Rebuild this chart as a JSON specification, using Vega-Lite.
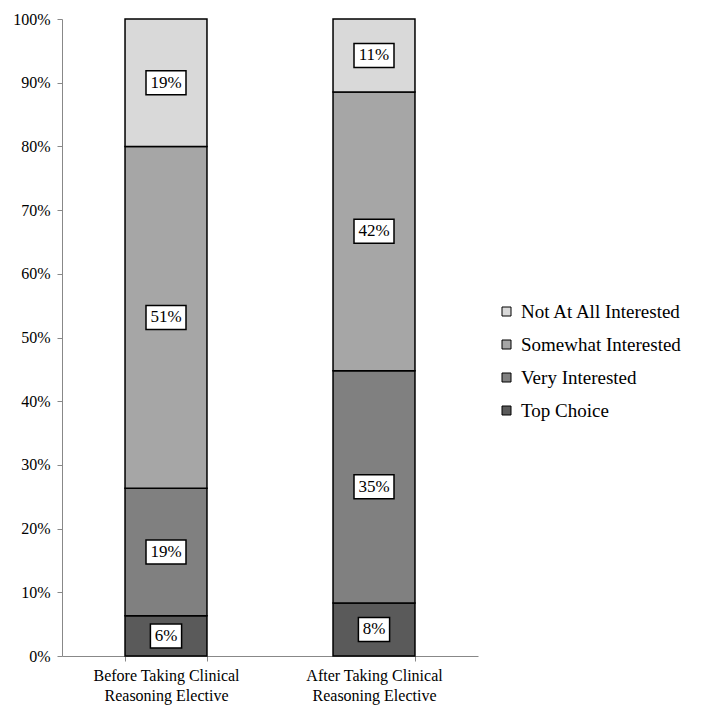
{
  "$schema": "https://vega.github.io/schema/vega-lite/v6.json",
  "width": 416,
  "height": 637,
  "autosize": {"type": "none"},
  "padding": {"left": 62, "top": 19, "right": 224, "bottom": 60},
  "background": "white",
  "config": {"view": {"stroke": null}, "font": "Liberation Serif"},
  "data": {
    "values": [
      {"phase": "Before Taking Clinical Reasoning Elective", "level": "Top Choice", "pct": 6, "rank": 1},
      {"phase": "Before Taking Clinical Reasoning Elective", "level": "Very Interested", "pct": 19, "rank": 2},
      {"phase": "Before Taking Clinical Reasoning Elective", "level": "Somewhat Interested", "pct": 51, "rank": 3},
      {"phase": "Before Taking Clinical Reasoning Elective", "level": "Not At All Interested", "pct": 19, "rank": 4},
      {"phase": "After Taking Clinical Reasoning Elective", "level": "Top Choice", "pct": 8, "rank": 1},
      {"phase": "After Taking Clinical Reasoning Elective", "level": "Very Interested", "pct": 35, "rank": 2},
      {"phase": "After Taking Clinical Reasoning Elective", "level": "Somewhat Interested", "pct": 42, "rank": 3},
      {"phase": "After Taking Clinical Reasoning Elective", "level": "Not At All Interested", "pct": 11, "rank": 4}
    ]
  },
  "transform": [
    {"stack": "pct", "groupby": ["phase"], "sort": [{"field": "rank", "order": "ascending"}], "as": ["y0", "y1"], "offset": "normalize"},
    {"calculate": "(datum.y0 + datum.y1) / 2", "as": "ymid"},
    {"calculate": "datum.pct + '%'", "as": "lab"}
  ],
  "encoding": {
    "x": {
      "field": "phase",
      "type": "nominal",
      "sort": null,
      "scale": {"paddingInner": 0.606, "paddingOuter": 0.303},
      "axis": {
        "title": null,
        "labelAngle": 0,
        "labelFont": "Liberation Serif",
        "labelFontSize": 16,
        "labelColor": "black",
        "labelLineHeight": 20,
        "labelPadding": 6,
        "labelExpr": "split(replace(datum.label, ' Reasoning', '|Reasoning'), '|')",
        "tickBand": "extent",
        "tickSize": 5,
        "tickColor": "#888888",
        "domainColor": "#888888",
        "grid": false
      }
    }
  },
  "layer": [
    {
      "mark": {"type": "bar", "stroke": "black", "strokeWidth": 1.5, "opacity": 1},
      "encoding": {
        "y": {
          "field": "y0",
          "type": "quantitative",
          "scale": {"domain": [0, 1]},
          "axis": {
            "title": null,
            "format": "%",
            "values": [0, 0.1, 0.2, 0.3, 0.4, 0.5, 0.6, 0.7, 0.8, 0.9, 1],
            "grid": false,
            "labelFont": "Liberation Serif",
            "labelFontSize": 16,
            "labelColor": "black",
            "labelPadding": 7,
            "tickSize": 5,
            "tickColor": "#888888",
            "domainColor": "#888888"
          }
        },
        "y2": {"field": "y1"},
        "color": {
          "field": "level",
          "type": "nominal",
          "scale": {
            "domain": ["Not At All Interested", "Somewhat Interested", "Very Interested", "Top Choice"],
            "range": ["#d9d9d9", "#a6a6a6", "#808080", "#5a5a5a"]
          },
          "legend": {
            "title": null,
            "orient": "none",
            "legendX": 435,
            "legendY": 283,
            "padding": 0,
            "symbolType": "square",
            "symbolSize": 81,
            "symbolStrokeColor": "black",
            "symbolStrokeWidth": 1,
            "symbolOpacity": 1,
            "labelFont": "Liberation Serif",
            "labelFontSize": 19,
            "labelColor": "black",
            "labelOffset": 5,
            "rowPadding": 13,
            "labelLimit": 300
          }
        }
      }
    },
    {
      "mark": {"type": "point", "filled": true, "fill": "white", "stroke": "black", "strokeWidth": 1.5, "opacity": 1, "size": 1600},
      "encoding": {
        "y": {"field": "ymid", "type": "quantitative"},
        "shape": {
          "condition": {"test": "datum.pct < 10", "value": "M-0.78,-0.6L0.78,-0.6L0.78,0.6L-0.78,0.6Z"},
          "value": "M-1,-0.6L1,-0.6L1,0.6L-1,0.6Z"
        }
      }
    },
    {
      "mark": {"type": "text", "font": "Liberation Serif", "fontSize": 17, "color": "black", "baseline": "middle"},
      "encoding": {
        "y": {"field": "ymid", "type": "quantitative"},
        "text": {"field": "lab"}
      }
    }
  ]
}
